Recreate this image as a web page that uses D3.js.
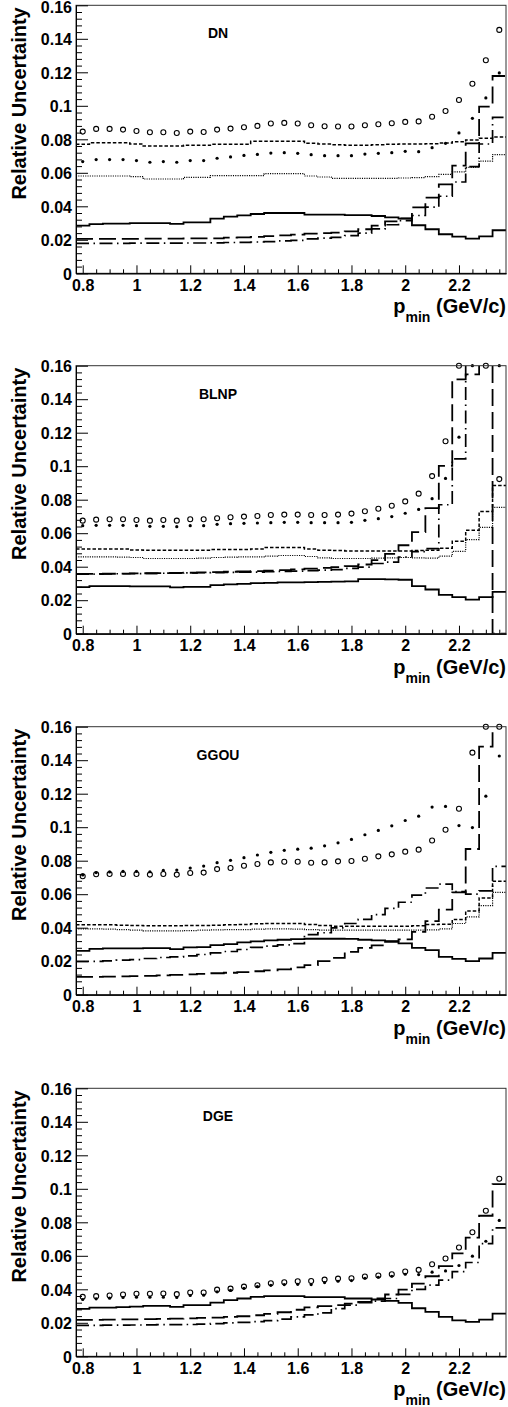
<!DOCTYPE html>
<html><head><meta charset="utf-8">
<script src="https://cdn.jsdelivr.net/npm/d3@7"></script>
<style>
body{margin:0;background:#fff;}
svg{display:block;background:#fff;}
text{font-family:"Liberation Sans",Arial,Helvetica,sans-serif;font-weight:bold;fill:#000;}
</style></head><body>
<svg id="chart" width="508" height="1407"></svg>
<script>
// ---------------- data ----------------
const pMin = [0.80,0.85,0.90,0.95,1.00,1.05,1.10,1.15,1.20,1.25,1.30,1.35,1.40,1.45,1.50,1.55,
              1.60,1.65,1.70,1.75,1.80,1.85,1.90,1.95,2.00,2.05,2.10,2.15,2.20,2.25,2.30,2.35];
const binWidth = 0.05;
const panelNames = ["DN","BLNP","GGOU","DGE"];
const yTicks = [0,0.02,0.04,0.06,0.08,0.10,0.12,0.14,0.16];
const yTickLabels = ["0","0.02","0.04","0.06","0.08","0.1","0.12","0.14","0.16"];
const xTicks = [0.8,1.0,1.2,1.4,1.6,1.8,2.0,2.2];
const xTickLabels = ["0.8","1","1.2","1.4","1.6","1.8","2","2.2"];

// DN
const dnOpen = [0.0846,0.0862,0.0862,0.0858,0.0850,0.0842,0.0842,0.0838,0.0846,0.0844,0.0858,0.0864,0.0872,0.0880,0.0894,0.0898,0.0894,0.0884,0.0878,0.0876,0.0876,0.0884,0.0890,0.0896,0.0904,0.0907,0.0935,0.0969,0.1035,0.1132,0.1272,0.1453];
const dnFilled = [0.0667,0.0679,0.0679,0.0679,0.0673,0.0663,0.0667,0.0663,0.0673,0.0673,0.0687,0.0695,0.0704,0.0710,0.0718,0.0720,0.0716,0.0708,0.0702,0.0702,0.0702,0.0712,0.0716,0.0720,0.0728,0.0726,0.0750,0.0776,0.0838,0.0925,0.1047,0.1196];
const dnSolid = [0.0285,0.0293,0.0297,0.0297,0.0300,0.0300,0.0300,0.0295,0.0304,0.0304,0.0326,0.0338,0.0346,0.0354,0.0360,0.0360,0.0360,0.0350,0.0350,0.0350,0.0347,0.0347,0.0342,0.0334,0.0326,0.0287,0.0263,0.0233,0.0219,0.0207,0.0221,0.0257];
const dnShortDash = [0.0770,0.0780,0.0780,0.0780,0.0772,0.0760,0.0760,0.0760,0.0764,0.0764,0.0770,0.0770,0.0770,0.0788,0.0788,0.0788,0.0788,0.0776,0.0772,0.0768,0.0765,0.0765,0.0768,0.0770,0.0772,0.0772,0.0774,0.0778,0.0786,0.0796,0.0806,0.0814];
const dnDotted = [0.0581,0.0581,0.0581,0.0581,0.0577,0.0563,0.0563,0.0563,0.0573,0.0573,0.0583,0.0583,0.0583,0.0583,0.0595,0.0595,0.0595,0.0581,0.0575,0.0567,0.0567,0.0567,0.0567,0.0567,0.0569,0.0571,0.0577,0.0591,0.0605,0.0632,0.0670,0.0709];
const dnLongDash = [0.0205,0.0205,0.0205,0.0206,0.0206,0.0207,0.0207,0.0207,0.0208,0.0208,0.0209,0.0213,0.0215,0.0217,0.0222,0.0227,0.0231,0.0237,0.0240,0.0243,0.0250,0.0263,0.0285,0.0310,0.0328,0.0394,0.0452,0.0531,0.0643,0.0776,0.0995,0.1178];
const dnDashDot = [0.0179,0.0179,0.0179,0.0179,0.0180,0.0180,0.0180,0.0180,0.0181,0.0181,0.0182,0.0184,0.0185,0.0187,0.0189,0.0194,0.0197,0.0205,0.0210,0.0215,0.0225,0.0240,0.0265,0.0290,0.0315,0.0345,0.0395,0.0460,0.0545,0.0637,0.0772,0.0931];

// BLNP
const blnpOpen = [0.0675,0.0681,0.0683,0.0683,0.0679,0.0675,0.0679,0.0675,0.0683,0.0683,0.0689,0.0695,0.0699,0.0703,0.0709,0.0711,0.0711,0.0709,0.0709,0.0711,0.0717,0.0731,0.0746,0.0764,0.0790,0.0836,0.0941,0.1149,0.1600,null,0.1600,0.0923];
const blnpFilled = [0.0645,0.0647,0.0647,0.0647,0.0645,0.0641,0.0641,0.0639,0.0645,0.0645,0.0653,0.0657,0.0659,0.0661,0.0663,0.0665,0.0665,0.0663,0.0663,0.0663,0.0665,0.0677,0.0687,0.0699,0.0719,0.0742,0.0806,0.0927,0.1173,0.1600,null,0.1600];
const blnpSolid = [0.0278,0.0284,0.0284,0.0284,0.0283,0.0283,0.0282,0.0277,0.0279,0.0280,0.0290,0.0294,0.0298,0.0302,0.0304,0.0306,0.0306,0.0308,0.0310,0.0311,0.0312,0.0326,0.0326,0.0324,0.0322,0.0284,0.0264,0.0232,0.0218,0.0204,0.0218,0.0250];
const blnpShortDash = [0.0506,0.0506,0.0506,0.0506,0.0500,0.0498,0.0498,0.0498,0.0498,0.0498,0.0502,0.0502,0.0502,0.0506,0.0514,0.0514,0.0514,0.0506,0.0498,0.0496,0.0494,0.0494,0.0494,0.0494,0.0494,0.0496,0.0498,0.0510,0.0552,0.0617,0.0729,0.0885];
const blnpDotted = [0.0459,0.0459,0.0459,0.0457,0.0455,0.0449,0.0449,0.0449,0.0449,0.0451,0.0455,0.0457,0.0459,0.0459,0.0463,0.0467,0.0467,0.0461,0.0453,0.0449,0.0449,0.0449,0.0451,0.0453,0.0455,0.0453,0.0451,0.0463,0.0492,0.0562,0.0635,0.0754];
const blnpLongDash = [0.0357,0.0357,0.0358,0.0359,0.0360,0.0361,0.0362,0.0363,0.0364,0.0366,0.0368,0.0370,0.0372,0.0374,0.0377,0.0380,0.0384,0.0388,0.0393,0.0398,0.0404,0.0413,0.0439,0.0476,0.0528,0.0607,0.0750,0.1002,0.1518,0.1548,0.2000,0.0000];
const blnpDashDot = [0.0355,0.0356,0.0357,0.0358,0.0359,0.0360,0.0361,0.0362,0.0363,0.0364,0.0365,0.0366,0.0367,0.0368,0.0370,0.0372,0.0374,0.0376,0.0379,0.0383,0.0390,0.0398,0.0419,0.0427,0.0458,0.0490,0.0508,0.0770,0.1044,0.2000,0.2000,0.2000];

// GGOU
const ggouOpen = [0.0707,0.0719,0.0721,0.0721,0.0721,0.0717,0.0721,0.0717,0.0727,0.0729,0.0750,0.0756,0.0770,0.0780,0.0790,0.0794,0.0794,0.0788,0.0790,0.0796,0.0798,0.0812,0.0826,0.0838,0.0854,0.0866,0.0921,0.0985,0.1110,0.1445,0.1600,0.1600];
const ggouFilled = [0.0715,0.0729,0.0733,0.0736,0.0736,0.0734,0.0742,0.0744,0.0756,0.0768,0.0788,0.0802,0.0818,0.0834,0.0850,0.0862,0.0869,0.0875,0.0889,0.0907,0.0927,0.0955,0.0981,0.1008,0.1040,0.1066,0.1120,0.1124,0.1010,0.0998,0.1185,0.1425];
const ggouSolid = [0.0262,0.0274,0.0276,0.0276,0.0277,0.0278,0.0278,0.0272,0.0282,0.0284,0.0296,0.0302,0.0312,0.0318,0.0324,0.0328,0.0332,0.0334,0.0334,0.0334,0.0333,0.0328,0.0324,0.0316,0.0306,0.0280,0.0266,0.0226,0.0214,0.0200,0.0216,0.0250];
const ggouShortDash = [0.0417,0.0417,0.0417,0.0415,0.0413,0.0411,0.0411,0.0411,0.0413,0.0413,0.0415,0.0417,0.0419,0.0423,0.0425,0.0425,0.0425,0.0419,0.0413,0.0409,0.0409,0.0409,0.0409,0.0409,0.0409,0.0411,0.0419,0.0421,0.0449,0.0500,0.0578,0.0677];
const ggouDotted = [0.0393,0.0393,0.0391,0.0389,0.0385,0.0381,0.0381,0.0381,0.0383,0.0385,0.0387,0.0389,0.0389,0.0391,0.0393,0.0393,0.0391,0.0389,0.0385,0.0385,0.0385,0.0385,0.0385,0.0385,0.0385,0.0385,0.0387,0.0393,0.0425,0.0465,0.0532,0.0611];
const ggouLongDash = [0.0107,0.0107,0.0108,0.0110,0.0111,0.0112,0.0115,0.0118,0.0121,0.0124,0.0128,0.0131,0.0135,0.0140,0.0145,0.0151,0.0163,0.0177,0.0200,0.0220,0.0256,0.0280,0.0294,0.0320,0.0330,0.0375,0.0439,0.0508,0.0611,0.0870,0.1481,0.2000];
const ggouDashDot = [0.0199,0.0199,0.0202,0.0206,0.0210,0.0216,0.0222,0.0226,0.0232,0.0240,0.0250,0.0258,0.0270,0.0282,0.0290,0.0298,0.0305,0.0359,0.0370,0.0399,0.0425,0.0450,0.0478,0.0515,0.0552,0.0595,0.0637,0.0660,0.0615,0.0600,0.0620,0.0766];

// DGE
const dgeOpen = [0.0355,0.0359,0.0363,0.0369,0.0373,0.0373,0.0375,0.0371,0.0381,0.0381,0.0398,0.0404,0.0416,0.0424,0.0436,0.0442,0.0448,0.0450,0.0458,0.0464,0.0466,0.0476,0.0482,0.0490,0.0506,0.0516,0.0550,0.0584,0.0650,0.0741,0.0869,0.1060];
const dgeFilled = [0.0339,0.0343,0.0347,0.0351,0.0353,0.0353,0.0353,0.0351,0.0363,0.0365,0.0385,0.0393,0.0406,0.0416,0.0424,0.0428,0.0430,0.0428,0.0440,0.0448,0.0452,0.0466,0.0472,0.0478,0.0490,0.0488,0.0502,0.0510,0.0542,0.0598,0.0687,0.0811];
const dgeSolid = [0.0283,0.0291,0.0291,0.0293,0.0297,0.0301,0.0301,0.0295,0.0305,0.0305,0.0321,0.0335,0.0345,0.0355,0.0359,0.0359,0.0359,0.0353,0.0353,0.0353,0.0345,0.0345,0.0339,0.0331,0.0319,0.0287,0.0265,0.0235,0.0215,0.0205,0.0219,0.0255];
const dgeLongDash = [0.0217,0.0218,0.0219,0.0220,0.0221,0.0222,0.0223,0.0225,0.0227,0.0229,0.0231,0.0235,0.0239,0.0245,0.0253,0.0263,0.0278,0.0292,0.0300,0.0305,0.0315,0.0325,0.0345,0.0369,0.0398,0.0434,0.0478,0.0538,0.0614,0.0709,0.0839,0.1028];
const dgeDashDot = [0.0185,0.0185,0.0186,0.0186,0.0187,0.0188,0.0189,0.0189,0.0190,0.0192,0.0195,0.0199,0.0203,0.0207,0.0213,0.0222,0.0235,0.0247,0.0259,0.0285,0.0305,0.0320,0.0330,0.0345,0.0370,0.0400,0.0425,0.0455,0.0505,0.0560,0.0673,0.0767];

// ---------------- build ----------------
const panels = [
  {name: panelNames[0], open: dnOpen, filled: dnFilled, hists: {solid: dnSolid, shortDash: dnShortDash, dotted: dnDotted, longDash: dnLongDash, dashDot: dnDashDot}},
  {name: panelNames[1], open: blnpOpen, filled: blnpFilled, hists: {solid: blnpSolid, shortDash: blnpShortDash, dotted: blnpDotted, longDash: blnpLongDash, dashDot: blnpDashDot}},
  {name: panelNames[2], open: ggouOpen, filled: ggouFilled, hists: {solid: ggouSolid, shortDash: ggouShortDash, dotted: ggouDotted, longDash: ggouLongDash, dashDot: ggouDashDot}},
  {name: panelNames[3], open: dgeOpen, filled: dgeFilled, hists: {solid: dgeSolid, longDash: dgeLongDash, dashDot: dgeDashDot}}
];

const lineStyles = {
  dotted:    {dash: "1.1,1.2", width: 1.2, color: "#000"},
  shortDash: {dash: "3.5,2", width: 1.5, color: "#000"},
  dashDot:   {dash: "13,4.5,1.5,4.5", width: 1.7, color: "#000"},
  longDash:  {dash: "17,6", width: 1.8, color: "#000"},
  solid:     {dash: null, width: 1.8, color: "#000"}
};
const drawOrder = ["dotted","shortDash","dashDot","longDash","solid"];

const svg = d3.select("#chart");
const left = 76, right = 506, plotH = 268;
const panelTops = [5.3, 365.7, 726.7, 1088.3];

const x = d3.scaleLinear()
  .domain([pMin[0] - binWidth/2, pMin[pMin.length-1] + binWidth/2])
  .range([left, right]);

const minorY = d3.range(0, 0.1601, 0.004);

panels.forEach((p, k) => {
  const top = panelTops[k];
  const y = d3.scaleLinear().domain([0, 0.16]).range([top + plotH, top]);
  const g = svg.append("g");

  const clipId = "clip" + k;
  svg.append("defs").append("clipPath").attr("id", clipId)
    .append("rect").attr("x", left).attr("y", top).attr("width", right-left).attr("height", plotH);

  // histogram outlines
  const line = d3.line().x(d => x(d[0])).y(d => y(d[1]));
  const hg = g.append("g").attr("clip-path", `url(#${clipId})`);
  drawOrder.forEach(key => {
    const vals = p.hists[key];
    if (!vals) return;
    const pts = [];
    vals.forEach((v, i) => {
      pts.push([pMin[i] - binWidth/2, v]);
      pts.push([pMin[i] + binWidth/2, v]);
    });
    const st = lineStyles[key];
    hg.append("path").attr("d", line(pts))
      .attr("fill", "none").attr("stroke", st.color)
      .attr("stroke-width", st.width)
      .attr("stroke-dasharray", st.dash)
      .attr("stroke-linejoin", "miter");
  });

  // markers
  g.append("g").selectAll("circle.open")
    .data(pMin.map((v,i)=>[v, p.open[i]]).filter(d => d[1] !== null))
    .join("circle")
    .attr("cx", d => x(d[0])).attr("cy", d => y(d[1])).attr("r", 2.5)
    .attr("fill", "none").attr("stroke", "#000").attr("stroke-width", 1.1);
  g.append("g").selectAll("circle.filled")
    .data(pMin.map((v,i)=>[v, p.filled[i]]).filter(d => d[1] !== null))
    .join("circle")
    .attr("cx", d => x(d[0])).attr("cy", d => y(d[1])).attr("r", 1.6)
    .attr("fill", "#000");

  // frame
  g.append("rect").attr("x", left).attr("y", top).attr("width", right-left).attr("height", plotH)
    .attr("fill", "none").attr("stroke", "#333").attr("stroke-width", 1);

  // y axis
  const ya = g.append("g").attr("transform", `translate(${left},0)`)
    .call(d3.axisLeft(y).tickValues(yTicks).tickFormat((d,i)=>yTickLabels[i])
      .tickSize(-12).tickPadding(4).tickSizeOuter(0));
  ya.selectAll("text").style("font-size", "16px").attr("dy", "0.36em");
  if (k === 0) {
    // keep the topmost label fully inside the picture
    ya.selectAll(".tick").filter(d => d === 0.16).select("text").attr("dy", "0.42em");
  }
  g.append("g").attr("transform", `translate(${left},0)`)
    .call(d3.axisLeft(y).tickValues(minorY.filter(v => !yTicks.some(t => Math.abs(t-v) < 1e-6)))
      .tickFormat("").tickSize(-6).tickSizeOuter(0));

  // x axis
  const xa = g.append("g").attr("transform", `translate(0,${top+plotH})`)
    .call(d3.axisBottom(x).tickValues(xTicks).tickFormat((d,i)=>xTickLabels[i])
      .tickSize(-8).tickPadding(6).tickSizeOuter(0));
  xa.selectAll("text").style("font-size", "16px");
  g.append("g").attr("transform", `translate(0,${top+plotH})`)
    .call(d3.axisBottom(x).tickValues(pMin.filter(v => !xTicks.some(t => Math.abs(t-v) < 1e-6)))
      .tickFormat("").tickSize(-4).tickSizeOuter(0));

  g.selectAll(".domain").attr("stroke", "#000");
  g.selectAll(".tick line").attr("stroke", "#000");

  // axis titles
  g.append("text").attr("transform", `translate(26,${top+2}) rotate(-90)`)
    .attr("text-anchor", "end").style("font-size", "20px").text("Relative Uncertainty");

  const xt = g.append("text").attr("x", right).attr("y", top + plotH + 40)
    .attr("text-anchor", "end").style("font-size", "20px");
  xt.append("tspan").text("p");
  xt.append("tspan").attr("dy", 9).style("font-size", "14px").text("min");
  xt.append("tspan").attr("dy", -9).text(" (GeV/c)");

  // panel label
  g.append("text").attr("x", 218).attr("y", top + 33).attr("text-anchor", "middle")
    .style("font-size", "14px").text(p.name);
});
</script>
</body></html>
